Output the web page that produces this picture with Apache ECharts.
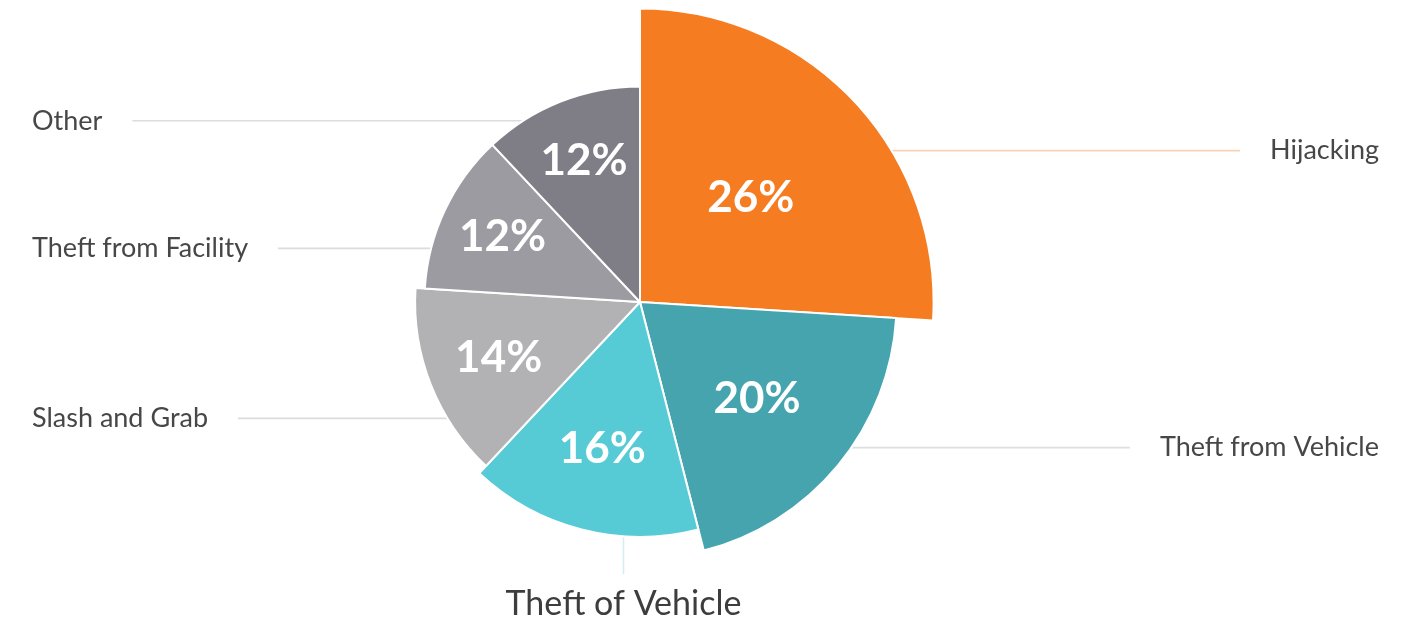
<!DOCTYPE html>
<html>
<head>
<meta charset="utf-8">
<script src="https://cdn.jsdelivr.net/npm/echarts@6/dist/echarts.min.js"></script>
<style>
  html, body { margin: 0; padding: 0; background: #fff; }
  #chart { width: 1411px; height: 619px; }
</style>
</head>
<body>
<div id="chart"></div>
<script>
// crime categories, clockwise from 12 o'clock
var categories = ['Hijacking', 'Theft from Vehicle', 'Theft of Vehicle', 'Slash and Grab', 'Theft from Facility', 'Other'];
var shares = [26, 20, 16, 14, 12, 12];

// styling
var palette = ['#f57c21', '#46a4af', '#56cbd5', '#b2b2b4', '#9c9ba1', '#7f7e86'];
var guideColors = ['#fbd3b4', '#dcdfe0', '#d7eef0', '#dcdcdc', '#dcdcdc', '#dcdcdc'];
var guideAt = [0.63, 0.43, 0.32, 0.31, 0.25, 0.24]; // where the guide leaves the arc (fraction of slice)

var FONT = 'Lato';
var CENTER = [640, 302];
// rose scale: radius grows with the share
function radiusOf(v) { return 180 + 0.857 * Math.pow(v, 1.5); }

var total = shares.reduce(function (a, b) { return a + b; }, 0);
var chart = echarts.init(document.getElementById('chart'));

function guideLayout(params) {
    var i = params.seriesIndex;
    var lay = chart.getModel().getSeriesByIndex(i).getData().getItemLayout(0);
    var t = lay.startAngle + guideAt[i] * (lay.endAngle - lay.startAngle);
    var px = lay.cx + lay.r * Math.cos(t);
    var py = lay.cy + lay.r * Math.sin(t);
    var rect = params.labelRect;
    if (categories[i] === 'Theft of Vehicle') {
        return {
            x: px, y: py + 68, align: 'center', verticalAlign: 'middle',
            labelLinePoints: [[px, py], [px, py], [px, py + 38]]
        };
    }
    var left = px < lay.cx;
    var endX = left ? rect.x + rect.width + 30 : rect.x - 30;
    return {
        y: py,
        labelLinePoints: [[px, py], [px, py], [endX, py]]
    };
}

var series = [];
var cum = 0;
shares.forEach(function (v, i) {
    var isBottom = categories[i] === 'Theft of Vehicle';
    series.push({
        type: 'pie',
        center: CENTER,
        radius: [0, radiusOf(v)],
        startAngle: 90 - cum / total * 360,
        clockwise: true,
        avoidLabelOverlap: false,
        animation: false,
        emphasis: { disabled: true },
        label: {
            show: true,
            position: 'outside',
            alignTo: isBottom ? 'none' : 'edge',
            edgeDistance: 32,
            formatter: '{b}',
            fontFamily: FONT,
            fontSize: isBottom ? 34 : 27,
            color: isBottom ? '#3d3d3d' : '#474747'
        },
        labelLine: {
            show: true,
            length: 0,
            length2: 30,
            lineStyle: { color: guideColors[i], width: 1.6 }
        },
        labelLayout: guideLayout,
        data: [
            {
                name: categories[i],
                value: v,
                itemStyle: { color: palette[i], borderColor: '#fff', borderWidth: 2 }
            },
            {
                name: '',
                value: total - v,
                itemStyle: { color: 'rgba(0,0,0,0)', borderWidth: 0 },
                label: { show: false },
                labelLine: { show: false }
            }
        ]
    });
    cum += v;
});

// percentage labels, drawn by a transparent overlay pie
series.push({
    type: 'pie',
    center: CENTER,
    radius: [0, 298],
    startAngle: 90,
    silent: true,
    animation: false,
    avoidLabelOverlap: false,
    itemStyle: { color: 'rgba(0,0,0,0)', borderWidth: 0 },
    label: {
        show: true,
        position: 'inside',
        formatter: '{c}%',
        fontFamily: FONT,
        fontWeight: 'bold',
        fontSize: 44,
        color: '#fff'
    },
    labelLine: { show: false },
    data: categories.map(function (c, i) { return { name: c, value: shares[i] }; })
});

chart.setOption({
    backgroundColor: '#fff',
    tooltip: { show: false },
    series: series
});
</script>
</body>
</html>
